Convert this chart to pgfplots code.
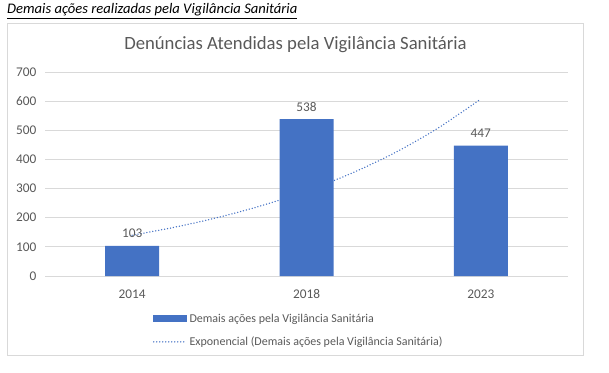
\documentclass[border=0pt]{standalone}
\usepackage{pgfplots}
\pgfplotsset{compat=1.18}
\usepackage{fontspec}
\setmainfont{Carlito}
\definecolor{barblue}{HTML}{4472C4}
\definecolor{txtgray}{HTML}{595959}
\definecolor{gridgray}{HTML}{D9D9D9}
\begin{document}
\begin{tikzpicture}
\path[use as bounding box] (0pt,0pt) rectangle (609pt,372pt);
\draw[gridgray, line width=0.75pt] (7pt,349pt) rectangle (583pt,17pt);
\node[anchor=west, inner sep=0pt, font=\fontsize{14.6}{17}\selectfont\itshape] at (7pt,361pt) {\underline{Demais ações realizadas pela Vigilância Sanitária}};
\node[anchor=center, inner sep=0pt, text=txtgray, font=\fontsize{18.7}{22}\selectfont] at (295.5pt,327pt) {Denúncias Atendidas pela Vigilância Sanitária};
\begin{axis}[
  at={(45pt,96pt)}, anchor=south west,
  scale only axis, width=523pt, height=204pt,
  xmin=-0.5, xmax=2.5, ymin=0, ymax=700,
  xtick={0,1,2}, xticklabels={2014,2018,2023},
  ytick={0,100,...,700},
  ymajorgrids, grid style={gridgray, line width=0.75pt},
  axis line style={draw=none},
  major tick length=0pt,
  tick label style={text=txtgray, font=\fontsize{13.3}{16}\selectfont},
  /pgf/number format/assume math mode=true,
  yticklabel style={xshift=-5pt},
  xticklabel style={yshift=-10pt},
  legend style={at={(0.2,-0.165)}, anchor=north west, draw=none, fill=none,
    font=\fontsize{12}{14}\selectfont, text=txtgray, row sep=9pt,
    /tikz/every even column/.append style={column sep=2pt}},
  legend cell align=left,
  clip=false,
]
\addplot[ybar, bar width=54pt, fill=barblue, draw=none,
  nodes near coords, nodes near coords style={text=txtgray, font=\fontsize{13.3}{16}\selectfont, yshift=4.5pt},
  legend image code/.code={\fill[barblue] (0pt,-3.5pt) rectangle (34pt,3.5pt);}]
  coordinates {(0,103) (1,538) (2,447)};
\addlegendentry{Demais ações pela Vigilância Sanitária}
\addplot[barblue, line width=1.5pt, dash pattern=on 0pt off 3pt, line cap=round, smooth,
  legend image code/.code={\draw[barblue, line width=1.5pt, dash pattern=on 0pt off 3pt, line cap=round] (1pt,0pt) -- (34pt,0pt);}]
  coordinates {(0,139.9) (0.25,168.2) (0.5,202.1) (0.75,242.8) (1,291.7) (1.25,350.4) (1.5,421.0) (1.75,505.8) (2,607.7)};
\addlegendentry{Exponencial (Demais ações pela Vigilância Sanitária)}
\end{axis}
\end{tikzpicture}
\end{document}
